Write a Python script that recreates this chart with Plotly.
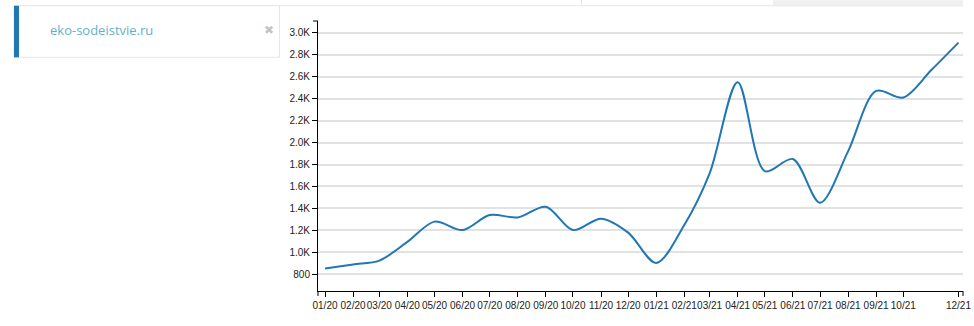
import plotly.graph_objects as go

# ---- data ----
months = ["2020-01-01", "2020-02-01", "2020-03-01", "2020-04-01", "2020-05-01", "2020-06-01",
          "2020-07-01", "2020-08-01", "2020-09-01", "2020-10-01", "2020-11-01", "2020-12-01",
          "2021-01-01", "2021-02-01", "2021-03-01", "2021-04-01", "2021-05-01", "2021-06-01",
          "2021-07-01", "2021-08-01", "2021-09-01", "2021-10-01", "2021-11-01", "2021-12-01"]
visits = [852, 890, 925, 1095, 1280, 1203, 1340, 1318, 1415, 1203, 1307, 1180,
          904, 1250, 1720, 2550, 1740, 1850, 1452, 1920, 2470, 2410, 2660, 2910]
x_tick_vals = ["2020-01-01", "2020-02-01", "2020-03-01", "2020-04-01", "2020-05-01", "2020-06-01",
               "2020-07-01", "2020-08-01", "2020-09-01", "2020-10-01", "2020-11-01", "2020-12-01",
               "2021-01-01", "2021-02-01", "2021-03-01", "2021-04-01", "2021-05-01", "2021-06-01",
               "2021-07-01", "2021-08-01", "2021-09-01", "2021-10-01", "2021-12-01"]
x_tick_text = ["01/20", "02/20", "03/20", "04/20", "05/20", "06/20", "07/20", "08/20", "09/20",
               "10/20", "11/20", "12/20", "01/21", "02/21", "03/21", "04/21", "05/21", "06/21",
               "07/21", "08/21", "09/21", "10/21", "12/21"]
y_tick_vals = [800, 1000, 1200, 1400, 1600, 1800, 2000, 2200, 2400, 2600, 2800, 3000]
y_tick_text = ["800", "1.0K", "1.2K", "1.4K", "1.6K", "1.8K", "2.0K", "2.2K", "2.4K", "2.6K", "2.8K", "3.0K"]
site_name = "eko-sodeistvie.ru"

W, H = 974, 326
L, R, T, B = 318, 963, 20.7, 290.7


def px(X):
    return (X - L) / (R - L)


def py(Y):
    return (B - Y) / (B - T)


fig = go.Figure()
fig.add_trace(go.Scatter(
    x=months, y=visits, mode="lines",
    line=dict(color="#1f77b4", width=2, shape="spline", smoothing=0.9),
    hoverinfo="x+y", showlegend=False,
))

font = dict(family="Liberation Sans, Arial, sans-serif", size=10, color="#222")

fig.update_layout(
    width=W, height=H,
    margin=dict(l=L, r=W - R, t=T, b=H - B, pad=0, autoexpand=False),
    paper_bgcolor="white", plot_bgcolor="white",
    font=font,
    xaxis=dict(
        type="date", range=["2019-12-24 06:00", "2021-12-06"],
        tickvals=x_tick_vals, ticktext=x_tick_text, tickangle=0,
        ticks="outside", ticklen=5, tickcolor="#000", tickwidth=1,
        showline=True, linecolor="#000", linewidth=1,
        showgrid=False, zeroline=False, tickfont=font, fixedrange=True,
    ),
    yaxis=dict(
        range=[648, 3107],
        tickvals=y_tick_vals, ticktext=y_tick_text,
        ticks="outside", ticklen=5, tickcolor="#000", tickwidth=1,
        showline=True, linecolor="#000", linewidth=1,
        showgrid=True, gridcolor="#e2e2e2", gridwidth=1.5,
        zeroline=False, tickfont=font, fixedrange=True,
    ),
)

shapes = []
# outer ticks of axis domains
shapes.append(dict(type="line", xref="paper", yref="paper", x0=px(L), x1=px(L), y0=py(B), y1=py(B + 5),
                   line=dict(color="#000", width=1)))
shapes.append(dict(type="line", xref="paper", yref="paper", x0=px(R), x1=px(R), y0=py(B), y1=py(B + 5),
                   line=dict(color="#000", width=1)))
shapes.append(dict(type="line", xref="paper", yref="paper", x0=px(L - 5), x1=px(L), y0=py(T), y1=py(T),
                   line=dict(color="#000", width=1)))
# top decorations
shapes.append(dict(type="rect", xref="paper", yref="paper", x0=px(773), x1=px(963), y0=py(0), y1=py(5),
                   fillcolor="#f0f0f0", line=dict(width=0), layer="below"))
shapes.append(dict(type="line", xref="paper", yref="paper", x0=px(14), x1=px(963), y0=py(5.5), y1=py(5.5),
                   line=dict(color="#e6e6e6", width=1)))
shapes.append(dict(type="line", xref="paper", yref="paper", x0=px(581.5), x1=px(581.5), y0=py(0), y1=py(5),
                   line=dict(color="#e6e6e6", width=1)))
# left site panel
shapes.append(dict(type="rect", xref="paper", yref="paper", x0=px(14), x1=px(279.5), y0=py(5.5), y1=py(57),
                   fillcolor="white", line=dict(color="#e6e6e6", width=1)))
shapes.append(dict(type="rect", xref="paper", yref="paper", x0=px(14), x1=px(19), y0=py(5.5), y1=py(57),
                   fillcolor="#1f77b4", line=dict(width=0)))
fig.update_layout(shapes=shapes)

fig.add_annotation(xref="paper", yref="paper", x=px(48), y=py(29.5), xanchor="left", yanchor="middle",
                   text=site_name, showarrow=False,
                   font=dict(family="Open Sans, sans-serif", size=13, color="#5fb3c4"))
fig.add_annotation(xref="paper", yref="paper", x=px(269), y=py(29.5), xanchor="center", yanchor="middle",
                   text="✖", showarrow=False,
                   font=dict(family="DejaVu Sans, sans-serif", size=12, color="#c4c4c4"))

fig.write_html("out.html")
